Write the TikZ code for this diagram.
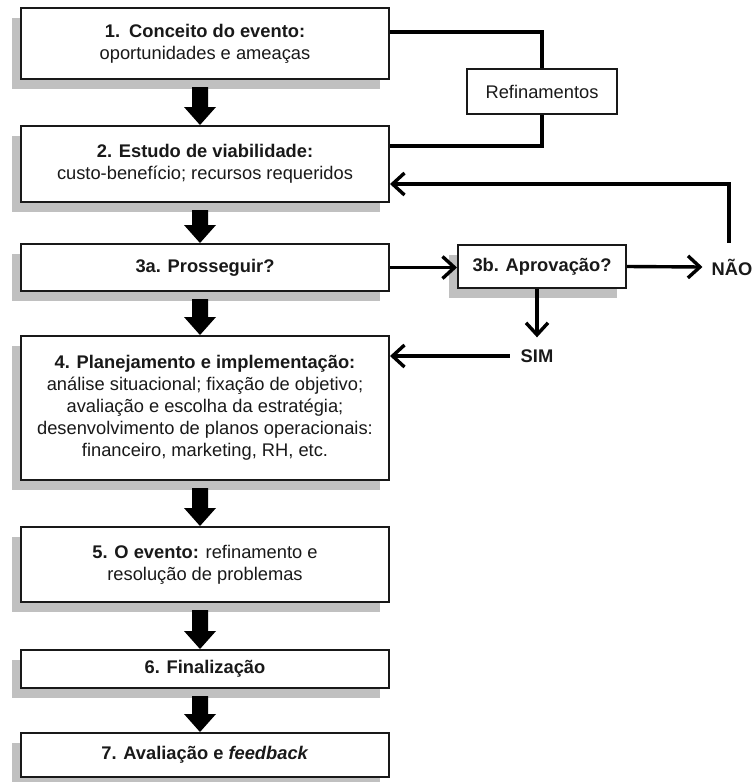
\documentclass[tikz,border=0pt]{standalone}
\usepackage{fontspec}
\setmainfont{Liberation Sans}
\usetikzlibrary{arrows.meta,calc,shadows}
\definecolor{shade}{RGB}{192,192,192}
\definecolor{ink}{RGB}{25,25,25}
% thick black down arrow between two stacked boxes
\newcommand\blockarrow[2]{%
  \fill[black] ($(#1.south)+(-13,7)$) -- ($(#2.north)+(-13,-18)$)
    -- ($(#2.north)+(-21,-18)$) -- ($(#2.north)+(-5,0)$)
    -- ($(#2.north)+(11,-18)$) -- ($(#2.north)+(3,-18)$)
    -- ($(#1.south)+(3,7)$) -- cycle;}
\begin{document}
\begin{tikzpicture}[x=1pt,y=-1pt,
  box/.style={draw=ink, line width=2pt, fill=white, align=center, inner sep=0pt,
    font=\fontsize{18.3}{22}\selectfont, text=ink},
  shbox/.style={box, drop shadow={shadow xshift=-9pt, shadow yshift=-10pt, fill=shade, opacity=1}},
  link/.style={line width=3.4pt, draw=black},
  tip/.style={link, -{Straight Barb[length=12pt,width=22pt]}},
  lbl/.style={font=\fontsize{18.3}{22}\selectfont\bfseries, text=ink, inner sep=0pt}]

\useasboundingbox (0,0) rectangle (754,782);

% main column
\node[shbox, minimum width=368, minimum height=71] (b1) at (205,43.5)
  {\textbf{1.\enspace Conceito do evento:}\\oportunidades e ameaças};
\node[shbox, minimum width=368, minimum height=76] (b2) at (205,164)
  {\textbf{2. Estudo de viabilidade:}\\custo-benefício; recursos requeridos};
\node[shbox, minimum width=368, minimum height=47] (b3a) at (205,267.5)
  {\textbf{3a. Prosseguir?}};
\node[shbox, minimum width=368, minimum height=144] (b4) at (205,408)
  {\textbf{4. Planejamento e implementação:}\\análise situacional; fixação de objetivo;\\avaliação e escolha da estratégia;\\desenvolvimento de planos operacionais:\\financeiro, marketing, RH, etc.};
\node[shbox, minimum width=368, minimum height=75] (b5) at (205,564.5)
  {\textbf{5. O evento:} refinamento e\\resolução de problemas};
\node[shbox, minimum width=368, minimum height=38] (b6) at (205,669)
  {\textbf{6. Finalização}};
\node[shbox, minimum width=368, minimum height=44] (b7) at (205,755)
  {\textbf{7. Avaliação e \textit{feedback}}};

% side boxes and labels
\node[box, minimum width=150, minimum height=45] (ref) at (542,91.5) {Refinamentos};
\node[shbox, minimum width=168, minimum height=43] (b3b) at (542,266.5)
  {\textbf{3b. Aprovação?}};
\node[lbl] (nao) at (732,267) {NÃO};
\node[lbl] (sim) at (537,356) {SIM};
\coordinate (naoTop) at ($(nao.north)+(-3,-16)$);

% block arrows
\blockarrow{b1}{b2}
\blockarrow{b2}{b3a}
\blockarrow{b3a}{b4}
\blockarrow{b4}{b5}
\blockarrow{b5}{b6}
\blockarrow{b6}{b7}

% refinement loop
\draw[link] ($(b1.north east)+(0,25)$) -| (ref.north);
\draw[link] (ref.south) |- ($(b2.north east)+(0,21)$);

% approval branch
\draw[tip] (b3a.east) -- (b3a.east -| b3b.west);
\draw[tip] (b3b.east) -- ([xshift=-9pt]nao.west);
\draw[tip] (naoTop) |- ($(b2.south east)+(0,-19)$);
\draw[tip] (b3b.south -| sim) -- ([yshift=12pt]sim.north);
\draw[tip] ([xshift=-11pt]sim.west) -- (sim.west -| b4.east);
\end{tikzpicture}
\end{document}
